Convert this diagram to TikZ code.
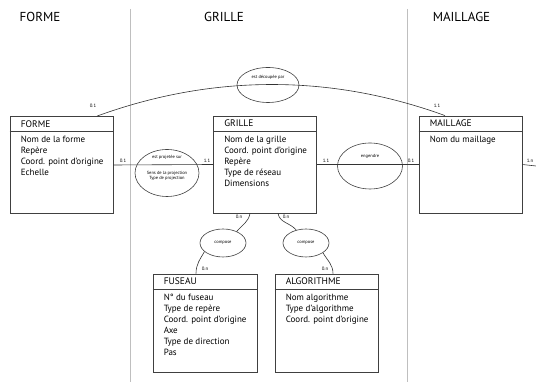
\documentclass[tikz,border=0pt]{standalone}
\usepackage{fontspec}
\setmainfont{PT Sans}
\usetikzlibrary{shapes.geometric,calc}
\tikzset{
  entity/.style={draw=black!75, line width=0.8pt, minimum width=103pt, minimum height=97pt, inner sep=0pt},
  relation/.style={ellipse, draw=black!75, line width=0.6pt, inner sep=0pt},
  card/.style={font=\fontsize{4.8}{5}\selectfont, inner sep=0pt},
  coltitle/.style={font=\fontsize{13}{15}\selectfont, inner sep=0pt},
  enttitle/.style={font=\fontsize{9.5}{11}\selectfont, anchor=west, inner sep=0pt},
  attrs/.style={font=\fontsize{9}{11}\selectfont, align=left, anchor=north west, inner sep=0pt},
  reltext/.style={font=\fontsize{4.5}{5.5}\selectfont, inner sep=0pt, align=center},
  column/.style={draw=black!25, line width=0.6pt},
  link/.style={draw=black!80, line width=0.6pt}
}
\begin{document}
\begin{tikzpicture}[x=1pt, y=1pt]
    \useasboundingbox (0,0) rectangle (536,382);
    % Column separators and titles
    \draw[column] (130,373) -- (130,0);
    \draw[column] (407,373) -- (407,0);
    \node[coltitle] (tforme) at (40,365) {FORME};
    \node[coltitle] (tgrille) at (224,365) {GRILLE};
    \node[coltitle] (tmaillage) at (461.5,365) {MAILLAGE};
    % Entities
    \node[entity] (forme) at (61.5,217) {};
    \node[entity] (grille) at (265,217.5) {};
    \node[entity] (maillage) at (470.5,217.5) {};
    \node[entity, minimum width=104pt, minimum height=98pt] (fuseau) at (205,59) {};
    \node[entity, minimum height=98pt] (algo) at (326.5,59) {};
    \foreach \e in {forme,grille,maillage,fuseau,algo}
        \draw[entity] ($(\e.north west)+(0,-15.5)$) -- ($(\e.north east)+(0,-15.5)$);
    % Entity texts
    \node[enttitle] at ($(forme.north west)+(11,-8)$) {FORME};
    \node[attrs] at ($(forme.north west)+(11,-20)$) {Nom de la forme\\Repère\\Coord. point d'origine\\Echelle};
    \node[enttitle] at ($(grille.north west)+(11,-8)$) {GRILLE};
    \node[attrs] at ($(grille.north west)+(11,-20)$) {Nom de la grille\\Coord. point d'origine\\Repère\\Type de réseau\\Dimensions};
    \node[enttitle] at ($(maillage.north west)+(11,-8)$) {MAILLAGE};
    \node[attrs] at ($(maillage.north west)+(11,-20)$) {Nom du maillage};
    \node[enttitle] at ($(fuseau.north west)+(11,-8)$) {FUSEAU};
    \node[attrs] at ($(fuseau.north west)+(11,-20)$) {N° du fuseau\\Type de repère\\Coord. point d'origine\\Axe\\Type de direction\\Pas};
    \node[enttitle] at ($(algo.north west)+(11,-8)$) {ALGORITHME};
    \node[attrs] at ($(algo.north west)+(11,-20)$) {Nom algorithme\\Type d'algorithme\\Coord. point d'origine};
    % Relations
    \node[relation, minimum width=62pt, minimum height=35pt] (decoupe) at (268,297) {};
    \node[reltext] at (268,305) {est découpée par};
    \node[relation, minimum width=64pt, minimum height=47pt] (projete) at (167,209) {};
    \node[reltext] at (167,225) {est projetée sur};
    \node[reltext] at (167,206) {Sens de la projection\\Type de projection};
    \node[relation, minimum width=65pt, minimum height=46pt] (engendre) at (370,216) {};
    \node[reltext] at (370,226) {engendre};
    \node[relation, minimum width=46pt, minimum height=28pt] (composeA) at (223,139) {};
    \node[reltext] at (223,139) {compose};
    \node[relation, minimum width=46pt, minimum height=28pt] (composeB) at (306,139) {};
    \node[reltext] at (306,139) {compose};
    % Links
    \coordinate (sortie) at (536,216);
    \draw[link] (forme.east) -- (grille.west);
    \draw[link] (grille.east) -- (maillage.west);
    \draw[link] (maillage.east) -- (sortie);
    \draw[link] ($(forme.north)+(35.5,0)$) to[out=20, in=160, looseness=0.9] ($(maillage.north)+(-25.5,0)$);
    \draw[link] ($(grille.south)+(-15,0)$) to[out=-100, in=50] (composeA.40);
    \draw[link] ($(grille.south)+(13,0)$) to[out=-80, in=130] (composeB.127);
    \draw[link] (composeA.205) to[out=-120, in=90] ($(fuseau.north)+(-9,0)$);
    \draw[link] (composeB.-30) to[out=-60, in=90] ($(algo.north)+(6.5,0)$);
    % Cardinalities
    \node[card] at (123,221) {0.1};
    \node[card] at (207,221) {1.1};
    \node[card] at (326,221) {1.1};
    \node[card] at (411,221) {0.1};
    \node[card] at (530,221) {1.n};
    \node[card] at (93,276) {0.1};
    \node[card] at (437,276) {1.1};
    \node[card] at (239,165) {0.n};
    \node[card] at (286,165) {0.n};
    \node[card] at (205,113) {0.n};
    \node[card] at (325,113) {0.n};
\end{tikzpicture}
\end{document}
